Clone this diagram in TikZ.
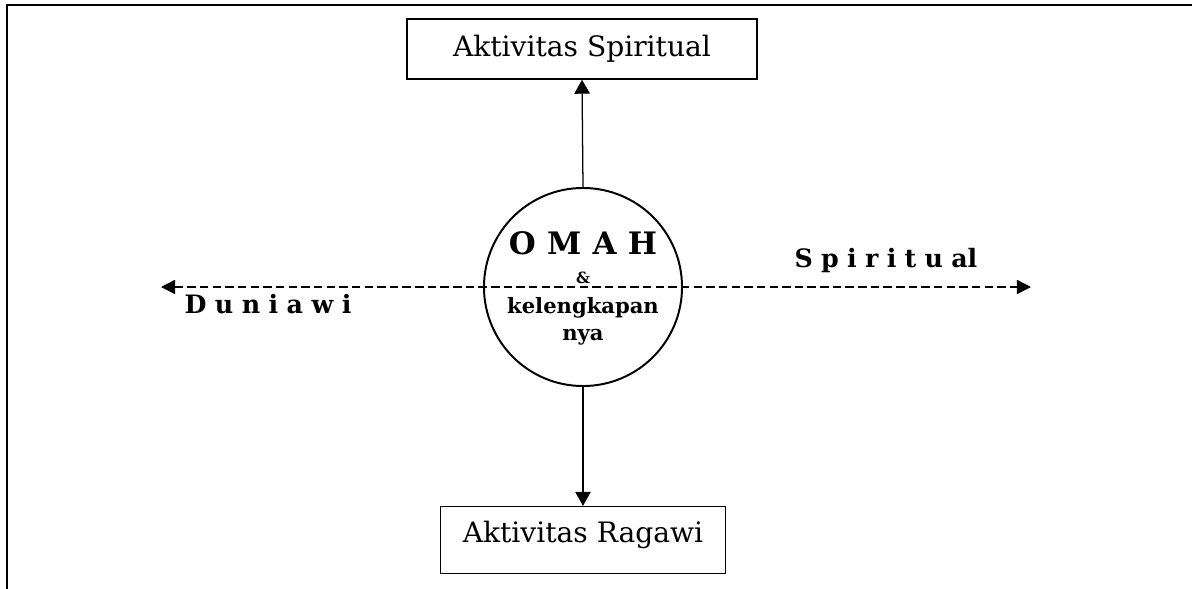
\documentclass[tikz,border=0pt]{standalone}
\usepackage{fontspec}
\setmainfont{DejaVu Serif}
\usetikzlibrary{arrows.meta, positioning}

\newcommand{\jarak}[1]{\spaceskip=#1\relax}

\begin{document}
\begin{tikzpicture}[x=0.025cm, y=-0.025cm,
  kotak/.style={draw=black, line width=0.9pt, inner sep=0pt, font=\fontsize{20}{24}\selectfont},
  panah/.style={line width=0.9pt, -{Triangle[length=10pt, width=11pt]}},
  garis/.style={line width=1.1pt, dash pattern=on 6pt off 3pt, {Triangle[length=10pt, width=10pt]}-{Triangle[length=10pt, width=10pt]}},
  renggang/.style={font=\bfseries\fontsize{18}{21}\selectfont},
]
\useasboundingbox (0,0) rectangle (1192,588);
\draw[line width=2.1pt] (7,600) -- (7,5) -- (1200,5);

\node[kotak, minimum width=8.75cm, minimum height=1.5cm] (spirit) at (582,49) {Aktivitas Spiritual};
\node[kotak, minimum width=7.125cm, minimum height=1.675cm, text depth=12pt] (ragawi) at (583,540) {Aktivitas Ragawi};
\node[draw=black, line width=1.4pt, circle, minimum size=4.95cm] (omah) at (583,287) {};

\coordinate (kiri) at (161,287);
\coordinate (kanan) at (1031,287);
\draw[garis] (kiri) -- (kanan);

\draw[panah] (omah.north) -- (spirit.south);
\draw[panah] (omah.south) -- (ragawi.north);

\node[anchor=base, font=\bfseries\fontsize{22}{24}\selectfont] (judul) at (583,254) {\jarak{8pt}O M A H};
\node[anchor=base, font=\bfseries\fontsize{11}{12}\selectfont] (dan) at (583,283) {\&};
\node[anchor=base, font=\bfseries\fontsize{15}{18}\selectfont] (lengkap) at (583,313) {kelengkapan};
\node[anchor=base, font=\bfseries\fontsize{15}{18}\selectfont] (nya) at (583,340) {nya};

\node[renggang, anchor=base] (dunia) at (268,313) {\jarak{6pt}D u n i a w i};
\node[renggang, anchor=base] (rohani) at (886,267) {\jarak{5.9pt}S p i r i t u al};
\end{tikzpicture}
\end{document}
